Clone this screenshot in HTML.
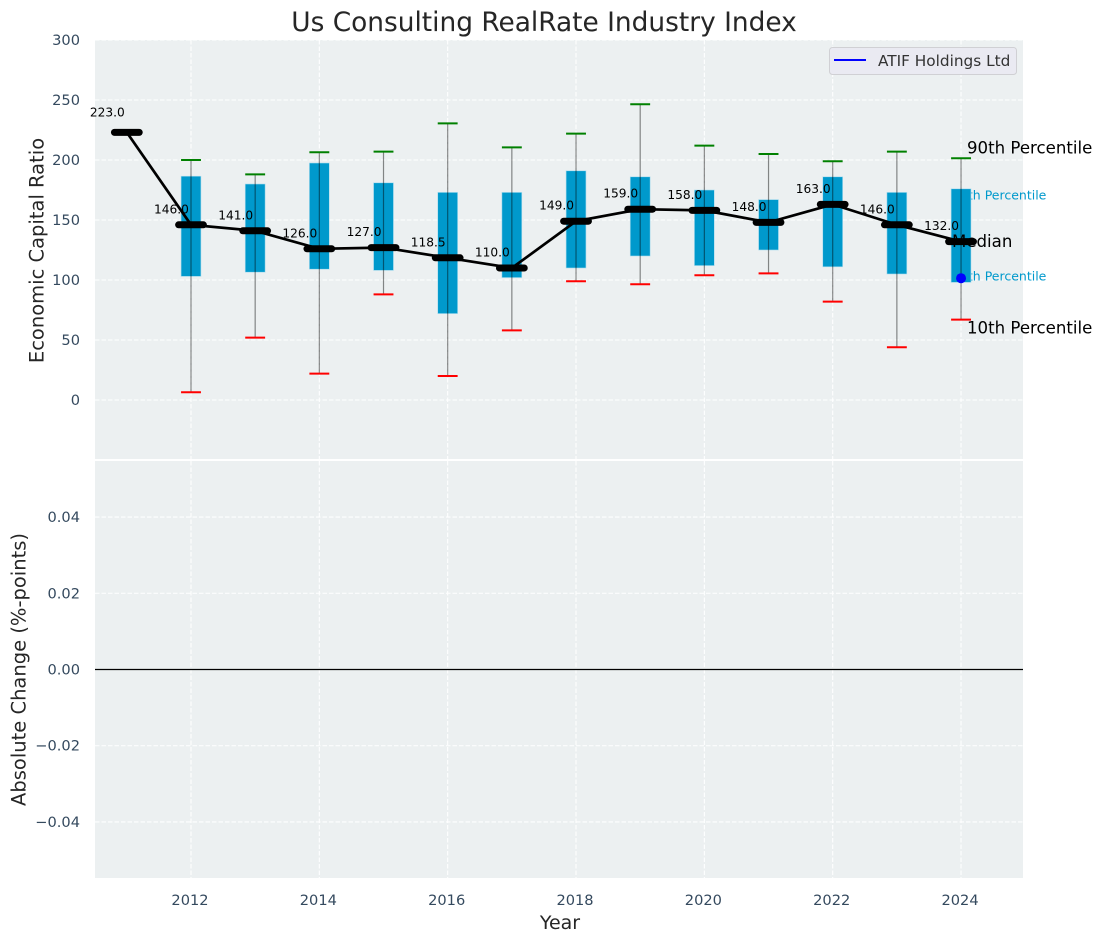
<!DOCTYPE html>
<html lang="en">
<head>
<meta charset="utf-8">
<title>Us Consulting RealRate Industry Index</title>
<style>
html,body{margin:0;padding:0;background:#fff;width:1102px;height:942px;overflow:hidden}
svg{display:block;font-family:"DejaVu Sans","Liberation Sans",sans-serif}
</style>
</head>
<body>
<svg id="chart" xmlns="http://www.w3.org/2000/svg" width="1102" height="942" viewBox="0 0 1102 942">
  <rect x="0" y="0" width="1102" height="942" fill="#ffffff"/>
  <rect x="95" y="40" width="928" height="419" fill="#ecf0f1"/>
  <rect x="95" y="461" width="928" height="417" fill="#ecf0f1"/>
  <g id="grid"></g>
  <g id="annotations-under">
    <text x="952" y="199.5" font-size="12.5" fill="#0099cc">75th Percentile</text>
    <text x="952" y="280.5" font-size="12.5" fill="#0099cc">25th Percentile</text>
  </g>
  <g id="marks"></g>
  <g id="annotations-over">
    <text x="967" y="153.5" font-size="16.6" fill="#000">90th Percentile</text>
    <text x="952" y="247" font-size="16.6" fill="#000">Median</text>
    <text x="967" y="333.5" font-size="16.6" fill="#000">10th Percentile</text>
  </g>
  <g id="ticks" fill="#34495e" font-size="14.6"></g>
  <text x="544" y="31" text-anchor="middle" font-size="26.4" fill="#262626">Us Consulting RealRate Industry Index</text>
  <text transform="translate(43.5,250.5) rotate(-90)" text-anchor="middle" font-size="19.5" fill="#262626">Economic Capital Ratio</text>
  <text transform="translate(25.5,669.5) rotate(-90)" text-anchor="middle" font-size="19.5" fill="#262626">Absolute Change (%-points)</text>
  <text x="560" y="929" text-anchor="middle" font-size="19" fill="#262626">Year</text>
  <g>
    <rect x="829.5" y="47.5" width="187" height="27" rx="3" fill="#eaeaf2" stroke="#d0d0d4"/>
    <line x1="834" y1="60" x2="866" y2="60" stroke="#0000ff" stroke-width="2"/>
    <text x="878" y="66" font-size="15.3" fill="#333">ATIF Holdings Ltd</text>
  </g>
</svg>
<script>
var years = [2011,2012,2013,2014,2015,2016,2017,2018,2019,2020,2021,2022,2023,2024];
var medians = [223,146,141,126,127,118.5,110,149,159,158,148,163,146,132];
var boxYears = [2012,2013,2014,2015,2016,2017,2018,2019,2020,2021,2022,2023,2024];
var p25 = [103,106.5,109,108,72,102,110,120,112,125,111,105,98];
var p75 = [186.5,180,197.5,181,173,173,191,186,175,167,186,173,176];
var p10 = [6.5,52,22,88,20,58,99,96.5,104,105.5,82,44,67];
var p90 = [200,188,206.5,207,230.5,210.5,222,246.5,212,205,199,207,201.5];
var atifYears = [2024];
var atifValues = [101.5];
var xTicks = [2012,2014,2016,2018,2020,2022,2024];
var topTicks = [0,50,100,150,200,250,300];
var bottomTicks = [-0.04,-0.02,0,0.02,0.04];

var NS = 'http://www.w3.org/2000/svg';
function xPos(v){ return 191 + (v - 2012) * 64.17; }
function yTop(v){ return 400 - v * 1.2; }
function yBottom(v){ return 669.5 - v * 3812; }
function make(tag, attrs, parent){
  var el = document.createElementNS(NS, tag);
  for (var k in attrs) el.setAttribute(k, attrs[k]);
  parent.appendChild(el);
  return el;
}
var gridG = document.getElementById('grid');
var marksG = document.getElementById('marks');
var ticksG = document.getElementById('ticks');
function gridLine(x1,y1,x2,y2,name){
  var el = make('line', {x1:x1,y1:y1,x2:x2,y2:y2,stroke:'#ffffff','stroke-width':1.1,'stroke-dasharray':'4.5 2','stroke-opacity':0.95}, gridG);
  
  
}
function tickText(x,y,anchor,str,name){
  var el = make('text', {x:x,y:y,'text-anchor':anchor}, ticksG);
  el.textContent = str;
  
  
}
xTicks.forEach(function(t){
  gridLine(xPos(t),40,xPos(t),459,'top-vertical-gridline-'+t);
  gridLine(xPos(t),461,xPos(t),878,'bottom-vertical-gridline-'+t);
  tickText(xPos(t)-1,905,'middle',String(t),'x-tick-'+t);
});
topTicks.forEach(function(t){
  gridLine(95,yTop(t),1023,yTop(t),'top-horizontal-gridline-'+t);
  tickText(80,yTop(t)+5,'end',String(t),'top-y-tick-'+t);
});
bottomTicks.forEach(function(t){
  gridLine(95,yBottom(t),1023,yBottom(t),'bottom-horizontal-gridline-'+t);
  var s = (t < 0 ? '\u2212' : '') + Math.abs(t).toFixed(2);
  tickText(80,yBottom(t)+5,'end',s,'bottom-y-tick-'+t);
});
var zero = make('line', {x1:95,x2:1023,y1:yBottom(0),y2:yBottom(0),stroke:'#000','stroke-width':1.2}, marksG);



boxYears.forEach(function(y,i){
  var cx = xPos(y), half = 0.155 * 64.17;
  var box = make('rect', {x:cx-half,y:yTop(p75[i]),width:half*2,height:yTop(p25[i])-yTop(p75[i]),fill:'#0099cc',stroke:'#aadcee','stroke-width':0.6}, marksG);
  
  
  var whisk = make('line', {x1:cx,x2:cx,y1:yTop(p90[i]),y2:yTop(p10[i]),stroke:'#000','stroke-width':1.2,'stroke-opacity':0.45}, marksG);
  
  
  var hi = make('line', {x1:cx-half,x2:cx+half,y1:yTop(p90[i]),y2:yTop(p90[i]),stroke:'#008000','stroke-width':2}, marksG);
  
  
  var lo = make('line', {x1:cx-half,x2:cx+half,y1:yTop(p10[i]),y2:yTop(p10[i]),stroke:'#ff0000','stroke-width':2}, marksG);
  
  
});
atifYears.forEach(function(y,i){
  var dot = make('circle', {cx:xPos(y),cy:yTop(atifValues[i]),r:5,fill:'#0000ff'}, marksG);
  
  
});
var pts = years.map(function(y,i){ return xPos(y)+','+yTop(medians[i]); }).join(' ');
var trend = make('polyline', {points:pts,fill:'none',stroke:'#000','stroke-width':2.7}, marksG);


years.forEach(function(y,i){
  var cx = xPos(y), cy = yTop(medians[i]);
  var m = make('line', {x1:cx-12.4,x2:cx+12.4,y1:cy,y2:cy,stroke:'#000','stroke-width':7,'stroke-linecap':'round'}, marksG);
  
  
  var lab = make('text', {x:cx-19.5,y:cy-(i===0?16:11.5),'text-anchor':'middle','font-size':12.2,fill:'#000'}, marksG);
  lab.textContent = medians[i].toFixed(1);
  
  
});
</script>
</body>
</html>
